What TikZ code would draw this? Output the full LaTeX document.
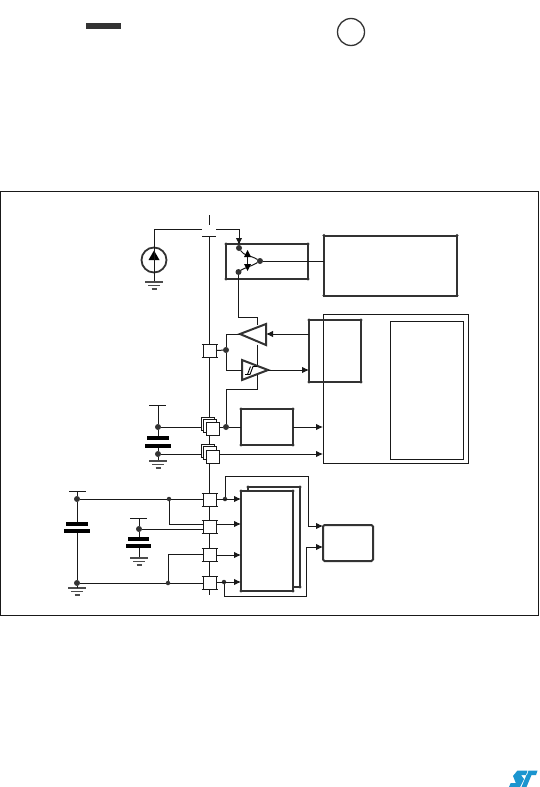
\documentclass[tikz,border=0pt]{standalone}
\usetikzlibrary{arrows.meta}
\definecolor{stblue}{HTML}{1B95CF}
\definecolor{boxgray}{HTML}{333333}
\tikzset{
  x=1pt,y=-1pt,
  wire/.style={line width=1pt,black!90},
  arr/.style={wire,-{Latex[length=7pt,width=6.5pt]}},
  thinbox/.style={draw=black!90,line width=1pt,inner sep=0,outer sep=0,fill=none},
  thickbox/.style={draw=boxgray,line width=2pt,inner sep=0,outer sep=0,fill=none},
  pinbox/.style={draw=black!90,line width=0.8pt,inner sep=0,outer sep=0,fill=white,minimum width=13pt,minimum height=13pt},
  jdot/.style={circle,fill=boxgray,inner sep=0,outer sep=0,minimum size=6pt},
  sdot/.style={circle,fill=boxgray,inner sep=0,outer sep=0,minimum size=4.5pt},
  plate/.style={fill=black,draw=none},
  gndbar/.style={line width=1.3pt,draw=black!70},
  tri/.style={draw=boxgray,line width=2pt,line join=miter,fill=white}
}
\newcommand{\gndsym}[2]{%
  \draw[gndbar] (#1-9,#2) -- (#1+9,#2);
  \draw[gndbar] (#1-6,#2+3.5) -- (#1+6,#2+3.5);
  \draw[gndbar] (#1-2.5,#2+7) -- (#1+2.5,#2+7);}
\newcommand{\cornerdots}[1]{%
  \foreach \a in {north west,north east,south west,south east}{\fill[boxgray] (#1.\a) circle (1.6pt);}}
\begin{document}
\begin{tikzpicture}
\useasboundingbox (0,0) rectangle (539,787);
\fill[white] (0,0) rectangle (539,787);
% header marks
\node[fill=boxgray,inner sep=0,minimum width=35pt,minimum height=6pt] (bar) at (103,26) {};
\node[circle,draw=boxgray,line width=1.3pt,inner sep=0,minimum size=27pt] (ring) at (351,32) {};
% frame
\node[thinbox,minimum width=538pt,minimum height=424pt] (frame) at (269.5,403) {};

% pin rail
\coordinate (railtop) at (209,215);
\coordinate (gaptop) at (209,225);
\coordinate (gapl) at (202,236);
\coordinate (gapr) at (216,236);
\coordinate (gapm) at (209,236);
\coordinate (railbot) at (209,595);
\draw[wire] (railtop) -- (gaptop);
\draw[wire] (gapl) -- (gapr);
\draw[wire] (gapm) -- (railbot);

% pins
\node[pinbox] (pa) at (209.5,350.5) {};
\node[pinbox] (ps1) at (207.5,423.5) {};
\node[pinbox] (ps2) at (209.5,425.5) {};
\node[pinbox] (ps3) at (212.5,429) {};
\node[pinbox] (pq1) at (207.5,451) {};
\node[pinbox] (pq2) at (209.5,453) {};
\node[pinbox] (pq3) at (212.5,456.5) {};
\node[pinbox] (p1) at (209.5,499.5) {};
\node[pinbox] (p2) at (209.5,527) {};
\node[pinbox] (p3) at (209.5,555) {};
\node[pinbox] (p4) at (209.5,583) {};
\foreach \c in {pa,p1,p2,p3,p4}{
  \draw[wire] ([xshift=-1.5pt]\c.north west) -- ([xshift=1.5pt]\c.north east);
  \draw[wire] ([xshift=-1.5pt]\c.south west) -- ([xshift=1.5pt]\c.south east);}

% current source
\node[circle,draw=boxgray,line width=1.8pt,inner sep=0,minimum size=25pt] (src) at (154,260) {};
\fill[black] (154,250.5) -- (159.5,260) -- (148.5,260) -- cycle;
\draw[wire] (src.north) -- (src.south);
\coordinate (srcg) at (154,282);
\draw[wire] (src.south) -- (srcg);
\gndsym{154}{282}
\coordinate (topl) at (202,229);
\coordinate (topr) at (216,229);
\coordinate (swin) at (239,229);
\draw[wire] (src.north) |- (topl);

% switch box
\node[thickbox,minimum width=82pt,minimum height=35pt] (sw) at (267,261.5) {};
\cornerdots{sw}
\node[jdot] (s1) at (239,248) {};
\node[jdot] (s2) at (238.5,272) {};
\node[jdot] (s3) at (260,261) {};
\draw[arr] (topr) -- (swin) -- (s1.north);
\draw[wire] (s1) .. controls (244,256) and (250,255) .. (s3);
\draw[wire] (s2) .. controls (244,268) and (250,267) .. (s3);
\draw[wire] (247.5,252) -- (247.5,270);
\fill[black] (247.5,250) -- (251,257) -- (244,257) -- cycle;
\fill[black] (247.5,271) -- (251,264) -- (244,264) -- cycle;

% big top box
\node[thickbox,minimum width=133pt,minimum height=60pt] (ctl) at (390.5,265.5) {};
\cornerdots{ctl}
\draw[wire] (s3) -- (ctl.west |- s3);

% large right box
\node[thinbox,minimum width=145pt,minimum height=149pt] (big) at (395.5,388.5) {};
\node[thinbox,minimum width=73pt,minimum height=138pt] (inner) at (426.5,390) {};
\node[thickbox,minimum width=52pt,minimum height=62pt] (adc) at (335,351) {};
\cornerdots{adc}

% buffers
\draw[tri] (240,334) -- (266,324) -- (266,345) -- cycle;
\coordinate (t1tip) at (240,334);
\coordinate (t1base) at (266,334);
\draw[tri] (242,360) -- (268,370) -- (242,380) -- cycle;
\coordinate (t2tip) at (268,370);
\coordinate (t2base) at (242,370);
\draw[line width=0.9pt] (245,374.5) -- (250,374.5) -- (253,366.5) -- (257,366.5);
\draw[line width=0.9pt] (247.5,374.5) -- (250.5,366.5);
\coordinate (pwrA) at (257,317);
\coordinate (pwrB) at (257,324.5);
\coordinate (pwrC) at (257,344.5);
\coordinate (pwrD) at (257,365);
\coordinate (pwrE) at (257,375);
\coordinate (pwrF) at (257,389);
\draw[wire] (s2) |- (pwrA) -- (pwrB);
\draw[wire] (pwrC) -- (pwrD);
\node[jdot] (ja) at (226,350) {};
\draw[wire] (pa.east) -- (ja);
\draw[wire] (ja) |- (t1tip);
\draw[wire] (ja) |- (t2base);
\draw[arr] (adc.west |- t1base) -- (t1base);
\draw[arr] (t2tip) -- (adc.west |- t2tip);

% stacked pins and regulator
\node[thickbox,minimum width=52pt,minimum height=36pt] (reg) at (267,427) {};
\cornerdots{reg}
\node[jdot] (jb) at (226,427) {};
\draw[wire] (pwrE) -- (pwrF) -| (jb);
\draw[wire] (ps3.east |- jb) -- (jb) -- (reg.west);
\draw[arr] (reg.east) -- (big.west |- reg.east);

% left capacitor on VDDA
\coordinate (c1top) at (158,405);
\node[jdot] (c1a) at (158,427) {};
\node[jdot] (c1b) at (158,454) {};
\draw[wire] (149,405) -- (166,405);
\draw[wire] (c1top) -- (c1a) -- (158,437);
\draw[wire] (158,445) -- (c1b) -- (158,461);
\fill[plate] (147,436) rectangle (169,440);
\fill[plate] (145,444) rectangle (171,447.5);
\gndsym{158}{461}
\draw[wire] (c1a) -- (ps1.west |- c1a);
\draw[wire] (c1b) -- (pq1.west |- c1b);
\draw[arr] (pq3.east |- c1b) -- (big.west |- c1b);

% battery-side capacitors
\coordinate (c2top) at (77,491);
\node[jdot] (c2a) at (77,499) {};
\node[jdot] (c2b) at (77,583) {};
\draw[wire] (69,491) -- (86,491);
\draw[wire] (c2top) -- (c2a) -- (77,523);
\draw[wire] (77,531) -- (c2b);
\fill[plate] (66,522) rectangle (88,525.5);
\fill[plate] (64,529) rectangle (90,533);
\gndsym{77}{588}
\draw[wire] (c2b) -- (77,588);

\coordinate (c3top) at (139,518);
\node[jdot] (c3a) at (139,529) {};
\draw[wire] (130,518) -- (147,518);
\draw[wire] (c3top) -- (c3a) -- (139,538);
\draw[wire] (139,546) -- (139,558);
\fill[plate] (128,537) rectangle (149,540.5);
\fill[plate] (126,544) rectangle (151,547.5);
\gndsym{139}{558}

\node[sdot] (n1) at (169,499) {};
\node[sdot] (n2) at (168,583) {};
\draw[wire] (c2a) -- (n1) -- (p1.west |- n1);
\draw[wire] (n1) |- (p2.west |- 0,524);
\draw[wire] (c3a) -- (p2.west |- c3a);
\draw[wire] (n2) |- (p3.west |- 0,554);
\draw[wire] (c2b) -- (n2) -- (p4.west |- n2);

% bottom stacked block
\node[thickbox,minimum width=52pt,minimum height=100pt] (mem2) at (274,537) {};
\cornerdots{mem2}
\node[thickbox,fill=white,minimum width=52pt,minimum height=100pt] (mem) at (267,541) {};
\cornerdots{mem}
\node[sdot] (d1) at (225,499) {};
\node[sdot] (d2) at (224,582) {};
\draw[arr] (p1.east |- d1) -- (mem.west |- d1);
\draw[arr] (p2.east |- 0,524) -- (mem.west |- 0,524);
\draw[arr] (p3.east |- 0,555) -- (mem.west |- 0,555);
\draw[arr] (p4.east |- d2) -- (mem.west |- d2);

\node[draw=boxgray,line width=2pt,rounded corners=1.5pt,inner sep=0,outer sep=0,minimum width=50pt,minimum height=36pt] (out) at (348,543) {};
\coordinate (ua) at (225,476);
\coordinate (ub) at (308,476);
\coordinate (uc) at (308,526);
\coordinate (la) at (224,596);
\coordinate (lb) at (306,596);
\coordinate (lc) at (306,547);
\draw[wire] (d1) -- (ua) -- (ub) -- (uc);
\draw[arr] (uc) -- (out.west |- uc);
\draw[wire] (d2) -- (la) -- (lb) -- (lc);
\draw[arr] (lc) -- (out.west |- lc);

% logo
\fill[stblue] (517.5,770.5) -- (527.5,770.5) -- (526,775) -- (521,775) -- (524,779) -- (520,787) -- (509,787) -- (510.7,783) -- (515.8,783) -- (513,776) -- cycle;
\fill[stblue] (528.5,770.5) -- (537.5,770.5) -- (536,775) -- (531.5,775) -- (526.5,787) -- (521.5,787) -- (526.5,775) -- (527,775) -- cycle;
\end{tikzpicture}
\end{document}
